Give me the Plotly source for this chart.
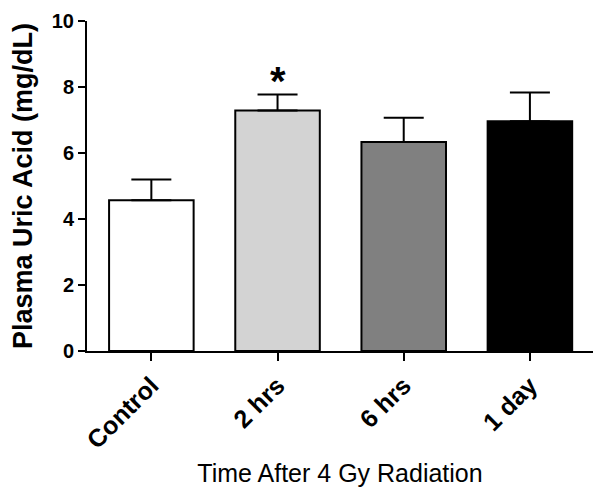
import plotly.graph_objects as go

categories = ["Control", "2 hrs", "6 hrs", "1 day"]
means = [4.57, 7.29, 6.33, 6.96]
sem = [0.63, 0.48, 0.74, 0.87]
bar_colors = ["#ffffff", "#d3d3d3", "#808080", "#000000"]
sig_labels = ["", "*", "", ""]

FONT = "Arial, Liberation Sans, sans-serif"

fig = go.Figure()
fig.add_trace(go.Bar(
    x=categories, y=means, width=0.67,
    marker=dict(color=bar_colors, line=dict(color="black", width=2)),
    error_y=dict(type="data", array=sem, arrayminus=[0] * len(sem), symmetric=False,
                 color="black", thickness=2, width=20),
    showlegend=False,
))

for c, m, s, lab in zip(categories, means, sem, sig_labels):
    if lab:
        fig.add_annotation(x=c, y=m + s, text="<b>" + lab + "</b>", showarrow=False,
                           yanchor="bottom", yshift=-10,
                           font=dict(family=FONT, size=40, color="black"))

fig.update_layout(
    width=593, height=485,
    margin=dict(l=79, r=8, t=13, b=142),
    paper_bgcolor="white", plot_bgcolor="white",
    font=dict(family=FONT, color="black"),
    bargap=0.33,
)
fig.update_xaxes(
    range=[-0.51, 3.5], showline=True, linecolor="black", linewidth=2,
    ticks="outside", ticklen=8, tickwidth=2, tickcolor="black",
    tickangle=-45, tickfont=dict(family=FONT, size=25, color="black", weight="bold"),
    title=dict(text="Time After 4 Gy Radiation", font=dict(family=FONT, size=25, color="black"), standoff=12),
    showgrid=False, zeroline=False, automargin=False, ticklabeloverflow="allow",
)
fig.update_yaxes(
    range=[0, 10], tickvals=[0, 2, 4, 6, 8, 10], showline=True, linecolor="black", linewidth=2,
    ticks="outside", ticklen=7, tickwidth=2, tickcolor="black",
    tickfont=dict(family=FONT, size=20, color="black", weight="bold"),
    title=dict(text="<b>Plasma Uric Acid (mg/dL)</b>", font=dict(family=FONT, size=27, color="black"), standoff=22),
    showgrid=False, zeroline=False, automargin=False, ticklabeloverflow="allow",
)

fig.write_html("out.html")
